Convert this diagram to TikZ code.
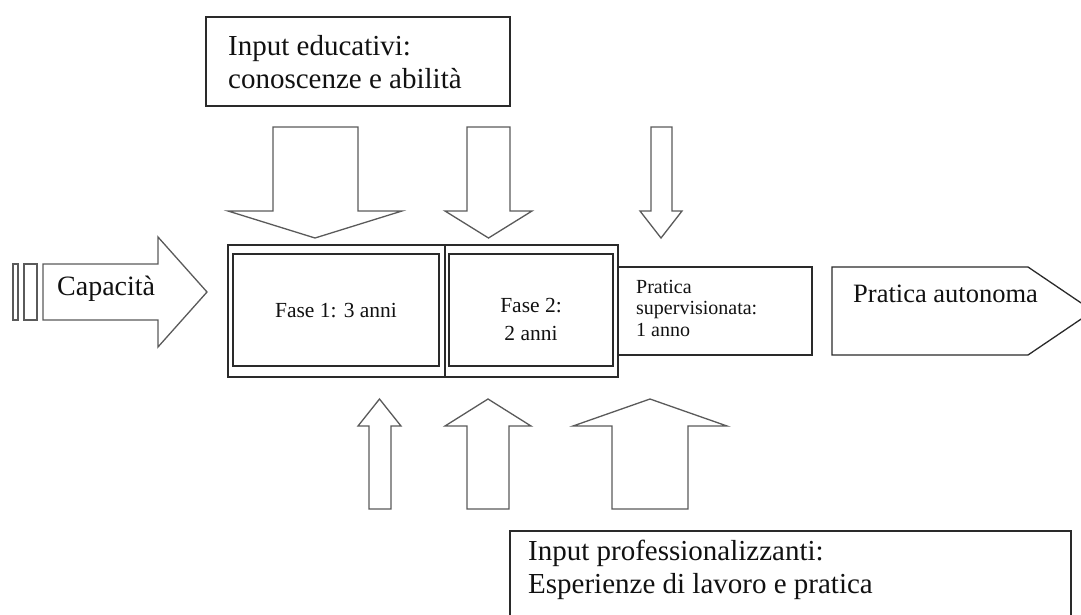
\documentclass[tikz,border=0pt]{standalone}
\usepackage{fontspec}
\setmainfont{Liberation Serif}
\definecolor{arrowgray}{HTML}{5A5A5A}
\definecolor{boxgray}{HTML}{2A2A2A}
\definecolor{txt}{HTML}{111111}
\tikzset{
  blockarrow/.style={draw=arrowgray, line width=1.3pt, fill=white, line join=miter},
  boxline/.style={draw=boxgray, line width=1.3pt, inner sep=0pt, outer sep=0pt, anchor=north west},
  tbig/.style={font=\fontsize{29}{33}\selectfont, text=txt, inner sep=0pt, anchor=base west},
  tcap/.style={font=\fontsize{28}{32}\selectfont, text=txt, inner sep=0pt, anchor=base west},
  tauto/.style={font=\fontsize{26.5}{30}\selectfont, text=txt, inner sep=0pt, anchor=base west},
  tfase/.style={font=\fontsize{21.5}{26}\selectfont, text=txt, inner sep=0pt, anchor=base},
  tsup/.style={font=\fontsize{20}{22}\selectfont, text=txt, inner sep=0pt, anchor=base west}
}
\begin{document}
\begin{tikzpicture}[x=1pt,y=-1pt]
\useasboundingbox (0,0) rectangle (1081,614);
\clip (0,0) rectangle (1081,614);

% top box
\node[boxline, minimum width=304pt, minimum height=89pt] (edu) at (206,17) {};
\node[tbig] (edu1) at (228,55) {Input educativi:};
\node[tbig] (edu2) at (228,88) {conoscenze e abilità};

% down arrows
\draw[blockarrow] (273,127) -- (358,127) -- (358,211) -- (402,211) -- (315,238) -- (228,211) -- (273,211) -- cycle;
\draw[blockarrow] (467,127) -- (510,127) -- (510,211) -- (532,211) -- (488.5,238) -- (445,211) -- (467,211) -- cycle;
\draw[blockarrow] (651,127) -- (672,127) -- (672,211) -- (682,211) -- (661,238) -- (640,211) -- (651,211) -- cycle;

% Capacita striped arrow
\draw[blockarrow] (13,264) rectangle (18,320);
\draw[blockarrow] (24,264) rectangle (37,320);
\draw[blockarrow] (43,264) -- (158,264) -- (158,237) -- (207,292) -- (158,347) -- (158,320) -- (43,320) -- cycle;
\node[tcap] (cap) at (57,295) {Capacità};

% main boxes
\node[boxline, minimum width=390pt, minimum height=132pt] (outer) at (228,245) {};
\draw[draw=boxgray, line width=1.3pt] (445,245) -- (445,377);
\node[boxline, minimum width=206pt, minimum height=112pt] (fase1) at (233,254) {};
\node[boxline, minimum width=164pt, minimum height=112pt] (fase2) at (449,254) {};
\node[tfase] (f1) at (336,317) {Fase 1: 3 anni};
\node[tfase] (f2a) at (531,312) {Fase 2:};
\node[tfase] (f2b) at (531,340) {2 anni};

% supervised box
\node[boxline, minimum width=194pt, minimum height=88pt] (sup) at (618,267) {};
\node[tsup] (s1) at (636,293) {Pratica};
\node[tsup] (s2) at (636,314) {supervisionata:};
\node[tsup] (s3) at (636,336) {1 anno};

% autonomous practice pentagon
\draw[blockarrow, draw=boxgray] (832,267) -- (1028,267) -- (1093,311) -- (1028,355) -- (832,355) -- cycle;
\node[tauto] (auto) at (853,302) {Pratica autonoma};

% up arrows
\draw[blockarrow] (369,509) -- (391,509) -- (391,426) -- (401,426) -- (379.5,399) -- (358,426) -- (369,426) -- cycle;
\draw[blockarrow] (467,509) -- (509,509) -- (509,426) -- (531,426) -- (488,399) -- (445,426) -- (467,426) -- cycle;
\draw[blockarrow] (612,509) -- (688,509) -- (688,426) -- (727,426) -- (650,399) -- (573,426) -- (612,426) -- cycle;

% bottom box
\node[boxline, minimum width=561pt, minimum height=100pt] (prof) at (510,531) {};
\node[tbig] (prof1) at (528,560) {Input professionalizzanti:};
\node[tbig] (prof2) at (528,593) {Esperienze di lavoro e pratica};
\end{tikzpicture}
\end{document}
